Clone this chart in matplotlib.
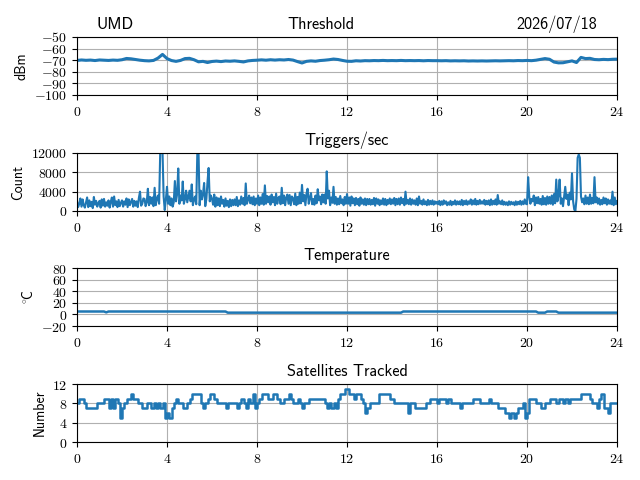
import os
import numpy as np
import matplotlib
matplotlib.use("Agg")
import matplotlib.pyplot as plt
from matplotlib.ticker import FuncFormatter, MultipleLocator
from matplotlib.font_manager import FontProperties
import matplotlib.transforms as mtransforms

plt.rcParams['mathtext.fontset'] = 'cm'

# ---------------- data ----------------
site = "UMD"
date_label = "2026/07/18"

# Threshold (dBm), every 0.2 h from 0 to 24
threshold_dbm = [
    -70.2, -69.8, -70.1, -69.9, -70.3,
    -69.8, -70.0, -70.2, -69.9, -70.1,
    -69.6, -68.5, -68.8, -69.4, -70.0,
    -70.4, -70.6, -70.2, -68.2, -65.0,
    -68.6, -70.3, -71.0, -70.2, -68.6,
    -68.4, -69.6, -71.4, -71.0, -72.0,
    -71.1, -70.8, -71.2, -70.7, -70.9,
    -70.6, -71.0, -71.5, -70.6, -70.2,
    -70.0, -69.7, -70.0, -69.6, -69.9,
    -69.6, -69.8, -69.4, -69.9, -71.2,
    -72.4, -71.0, -70.6, -70.9, -70.3,
    -70.0, -69.6, -69.0, -69.4, -70.2,
    -70.9, -71.0, -70.5, -70.7, -70.4,
    -70.5, -70.3, -70.4, -70.2, -70.4,
    -70.3, -70.4, -70.2, -70.4, -70.3,
    -70.4, -70.3, -70.5, -70.3, -70.4,
    -70.4, -70.5, -70.4, -70.6, -70.5,
    -70.6, -70.5, -70.7, -70.6, -70.7,
    -70.6, -70.7, -70.6, -70.5, -70.6,
    -70.5, -70.4, -70.5, -70.3, -70.4,
    -70.2, -70.4, -70.0, -69.3, -68.6,
    -69.2, -71.6, -72.3, -72.2, -71.4,
    -70.6, -72.0, -67.6, -68.6, -68.4,
    -69.4, -69.6, -69.3, -69.5, -69.2,
    -69.1,
]

# Triggers per second: one list per hour (samples evenly spaced within the hour)
triggers_by_hour = [
    [2000, 800, 1500, 2600, 900, 2400, 1200, 700, 1800, 2800, 800, 2200, 1000, 1900, 600, 2900, 1300, 2100, 900, 1600],
    [2100, 700, 2400, 1100, 2500, 900, 1800, 1100, 2200, 700, 1900, 2800, 900, 3000, 1200, 2000, 800, 2300, 1000, 1700],
    [2200, 900, 2000, 1300, 2600, 800, 2400, 1200, 1900, 2500, 900, 2100, 1100, 2000, 800, 2700, 4000, 1100, 1500, 2600],
    [2500, 1000, 1800, 4600, 1200, 2900, 1500, 2800, 1000, 4800, 1200, 2600, 3200, 1500, 12500, 12500, 12500, 3000, 200, 2400],
    [5000, 1500, 3000, 1200, 2600, 900, 1800, 6200, 2000, 3500, 8800, 1500, 3200, 2200, 6100, 1500, 2500, 4200, 1800, 3000],
    [4200, 2000, 5500, 1200, 2400, 3000, 1400, 12500, 12500, 1200, 4200, 2400, 3500, 5800, 1000, 2500, 6000, 8900, 2000, 3200],
    [2500, 1300, 3400, 900, 2800, 1200, 2600, 1000, 3000, 1500, 2300, 900, 2600, 1100, 2100, 800, 2400, 1000, 2300, 1200],
    [2400, 1200, 2900, 1000, 2200, 1300, 3000, 1500, 2700, 1200, 5700, 1500, 2300, 3200, 1600, 2800, 1400, 3000, 1200, 2600],
    [1500, 3200, 1200, 2800, 1500, 3500, 1300, 5300, 1500, 3100, 1800, 3000, 1300, 3400, 1800, 2900, 1200, 3600, 1500, 2700],
    [3000, 1400, 4800, 1600, 3200, 1200, 2800, 3400, 1500, 3300, 1200, 3000, 2600, 1400, 3600, 1200, 2900, 1500, 3800, 1600],
    [5400, 2000, 3300, 1200, 3600, 4600, 1500, 2700, 3700, 1400, 2500, 1300, 3200, 1600, 4500, 2200, 3000, 1400, 3400, 1800],
    [3400, 1500, 8200, 2600, 4200, 1200, 2800, 1700, 5000, 1500, 2900, 1300, 2600, 1400, 3100, 1600, 2400, 1200, 2900, 1500],
    [3500, 1500, 2800, 1100, 3000, 1600, 2600, 1200, 2700, 1400, 2500, 1100, 2800, 1500, 2400, 1300, 2600, 1200, 2500, 1400],
    [2500, 1300, 2300, 1400, 2700, 1100, 2600, 1500, 2400, 1200, 2200, 1400, 2600, 1300, 2500, 1200, 2300, 1500, 2600, 1400],
    [2400, 1500, 2700, 1200, 2500, 1400, 2600, 1300, 2800, 1600, 2500, 1200, 4000, 1500, 2300, 1400, 2600, 1300, 2400, 1500],
    [2200, 1300, 2600, 1200, 3000, 1500, 2100, 1300, 2400, 1400, 2000, 1200, 2300, 1300, 2100, 1400, 2200, 1300, 2000, 1500],
    [1900, 1400, 2100, 1200, 2000, 1300, 2200, 1500, 2000, 1200, 1800, 1300, 2100, 1200, 1900, 1400, 2200, 1300, 2000, 1400],
    [2000, 1300, 2300, 1200, 2100, 1400, 2200, 1300, 2000, 1500, 2400, 1300, 2200, 1400, 2500, 1300, 2100, 1400, 2300, 1500],
    [2000, 1500, 2300, 1300, 2100, 1400, 2200, 1200, 2400, 1300, 2100, 1400, 2400, 1300, 3300, 1500, 2000, 1400, 2200, 1300],
    [1900, 1300, 1800, 1200, 2000, 1300, 1900, 1400, 1800, 1200, 2000, 1300, 1900, 1400, 2100, 1300, 2000, 1400, 2400, 1500],
    [1400, 7000, 3000, 1500, 2500, 2000, 3200, 1200, 2800, 1600, 2900, 1500, 2500, 1300, 3100, 1400, 2700, 1300, 3000, 1500],
    [2900, 1500, 3200, 1300, 3500, 1600, 6500, 2000, 3200, 6500, 1500, 2600, 1000, 3000, 5000, 2500, 3400, 1200, 3800, 2400],
    [7800, 2000, 300, 0, 2500, 11000, 11700, 11000, 3000, 1800, 2600, 1400, 3200, 1500, 2800, 1400, 3400, 1500, 2700, 1600],
    [7000, 1800, 2800, 1500, 2600, 1300, 2300, 1400, 2800, 1600, 2600, 1300, 2400, 1500, 2200, 1400, 4000, 1200, 2800, 1400],
]
triggers_end = 2000  # value at 24:00

# Temperature (deg C) readings at change points
temp_hours = [0.0, 1.2, 1.3, 1.4, 6.6, 6.7, 14.4, 14.5, 20.4, 20.5,
              20.8, 20.9, 21.3, 21.4, 24.0]
temp_values = [5.0, 5.0, 3.5, 5.0, 5.0, 3.0, 3.0, 5.0, 5.0, 3.0,
               3.0, 5.0, 5.0, 3.0, 3.0]

# Satellites tracked, every 0.1 h from 0 to 24
satellites = [
    8, 9, 9, 8, 7, 7, 7, 7, 7, 8,
    8, 8, 9, 9, 7, 9, 7, 9, 8, 5,
    7, 8, 9, 9, 10, 9, 9, 8, 8, 7,
    7, 8, 8, 7, 8, 7, 8, 7, 8, 5,
    6, 5, 7, 8, 9, 8, 8, 7, 7, 8,
    9, 10, 10, 10, 10, 8, 7, 8, 9, 10,
    10, 9, 8, 8, 8, 8, 7, 8, 8, 8,
    8, 7, 8, 9, 8, 7, 9, 8, 10, 7,
    8, 9, 10, 10, 10, 9, 9, 10, 10, 9,
    8, 8, 9, 9, 10, 9, 8, 8, 9, 8,
    7, 8, 8, 9, 9, 9, 9, 9, 9, 9,
    8, 7, 8, 7, 8, 7, 9, 10, 10, 11,
    11, 10, 10, 9, 10, 10, 9, 8, 6, 7,
    8, 8, 8, 8, 10, 10, 10, 10, 10, 9,
    9, 8, 8, 8, 8, 8, 8, 6, 8, 8,
    7, 7, 7, 7, 7, 8, 8, 9, 9, 9,
    8, 9, 9, 9, 8, 9, 8, 8, 8, 8,
    7, 8, 8, 8, 8, 8, 9, 9, 9, 8,
    8, 8, 8, 9, 8, 8, 8, 7, 7, 7,
    6, 6, 5, 6, 5, 6, 7, 7, 8, 5,
    6, 9, 9, 9, 8, 8, 7, 7, 8, 8,
    9, 9, 9, 8, 9, 9, 8, 9, 8, 9,
    9, 9, 9, 9, 10, 10, 10, 10, 9, 8,
    8, 7, 9, 10, 7, 7, 6, 8, 8, 8,
    8,
]

x_ticks = [0, 4, 8, 12, 16, 20, 24]

# ---------------- plotting ----------------
cmss_path = os.path.join(matplotlib.get_data_path(), 'fonts', 'ttf', 'cmss10.ttf')
sans_title = FontProperties(fname=cmss_path, size=11.7)
sans_label = FontProperties(fname=cmss_path, size=10)

mathfmt = FuncFormatter(lambda v, p: r'$%d$' % int(round(v)))

fig = plt.figure(figsize=(6.4, 4.8), dpi=100)
L, W = 77 / 640, 540 / 640
tops = [37, 153, 268, 384]
H = 58 / 480
axes = [fig.add_axes([L, 1 - (t + 58) / 480, W, H]) for t in tops]

t_thr = np.linspace(0, 24, len(threshold_dbm))
t_trg, v_trg = [], []
for h, vals in enumerate(triggers_by_hour):
    n = len(vals)
    for i, v in enumerate(vals):
        t_trg.append(h + i / n)
        v_trg.append(v)
t_trg.append(24.0)
v_trg.append(triggers_end)
t_sat = np.linspace(0, 24, len(satellites))

color = '#1f77b4'
axes[0].plot(t_thr, threshold_dbm, color=color, lw=2.2)
axes[1].plot(t_trg, v_trg, color=color, lw=1.5)
axes[2].plot(temp_hours, temp_values, color=color, lw=1.8)
axes[3].plot(t_sat, satellites, color=color, lw=1.8, drawstyle='steps-post')

ylims = [(-100, -50), (0, 12000), (-20, 80), (0, 12)]
ysteps = [10, 4000, 20, 4]
ylabels = ['dBm', 'Count', None, 'Number']
titles = [None, 'Triggers/sec', 'Temperature', 'Satellites Tracked']

for ax, yl, ys, ylab, ttl in zip(axes, ylims, ysteps, ylabels, titles):
    ax.set_xlim(0, 24)
    ax.set_ylim(*yl)
    ax.set_xticks(x_ticks)
    ax.yaxis.set_major_locator(MultipleLocator(ys))
    ax.xaxis.set_major_formatter(mathfmt)
    ax.yaxis.set_major_formatter(mathfmt)
    ax.tick_params(labelsize=10)
    ax.grid(True, color='#b0b0b0', lw=0.8)
    if ylab is not None:
        ax.set_ylabel(ylab, fontproperties=sans_label)
    if ttl is not None:
        ax.set_title(ttl, fontproperties=sans_title)

axes[2].set_ylabel(r'$^{\circ}\!\mathsf{C}$', fontsize=10)

offset = mtransforms.ScaledTranslation(0, 6 / 72, fig.dpi_scale_trans)
tr = axes[0].transAxes + offset
axes[0].text(0.037, 1.0, site, transform=tr,
             ha='left', va='baseline', fontproperties=sans_title)
axes[0].text(0.452, 1.0, 'Threshold', transform=tr,
             ha='center', va='baseline', fontproperties=sans_title)
axes[0].text(0.963, 1.0, date_label, transform=tr,
             ha='right', va='baseline', fontproperties=sans_title)

fig.savefig('out.png', dpi=100)
